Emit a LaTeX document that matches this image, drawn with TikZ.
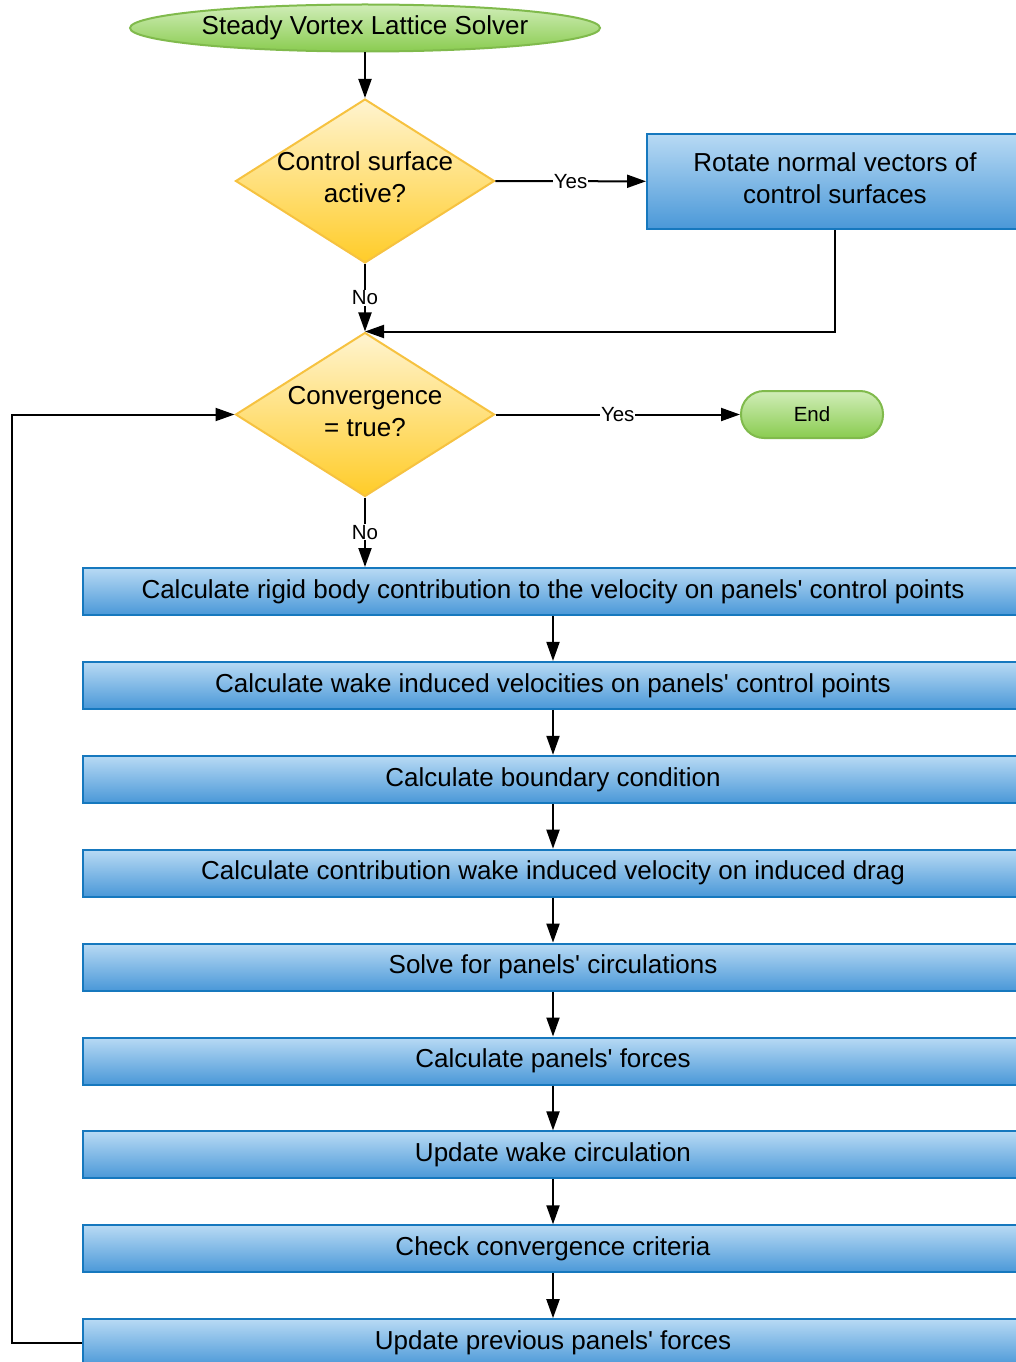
\documentclass[tikz,border=0pt]{standalone}
\usepackage{fontspec}
\setmainfont{Liberation Sans}
\usepackage{tikz}
\usetikzlibrary{positioning,shapes.geometric,arrows.meta}

\definecolor{termtop}{RGB}{208,237,184}
\definecolor{termbot}{RGB}{138,204,80}
\definecolor{termline}{RGB}{128,186,76}
\definecolor{dectop}{RGB}{255,244,208}
\definecolor{decbot}{RGB}{255,204,40}
\definecolor{decline}{RGB}{246,194,64}
\definecolor{proctop}{RGB}{184,218,244}
\definecolor{procbot}{RGB}{74,152,216}
\definecolor{procline}{RGB}{22,120,190}

\begin{document}
\begin{tikzpicture}[
  x=1pt, y=-1pt,
  font=\fontsize{26}{32}\selectfont,
  node distance=44.9pt,
  terminal/.style={draw=termline,line width=2pt,top color=termtop,bottom color=termbot,inner sep=2pt},
  decision/.style={diamond,aspect=1.58,draw=decline,line width=2pt,top color=dectop,bottom color=decbot,
    minimum width=259pt,minimum height=164pt,inner sep=-8pt,align=center,text depth=7pt},
  process/.style={rectangle,draw=procline,line width=2pt,top color=proctop,bottom color=procbot,
    minimum width=940pt,minimum height=47pt,inner sep=0pt},
  flow/.style={line width=2pt,-{Triangle[length=19pt,width=13pt]}},
  answer/.style={fill=white,inner sep=1pt,font=\fontsize{20.5}{24}\selectfont}
]
  \useasboundingbox (0,0) rectangle (1016,1362);
  \clip (0,0) rectangle (1016,1362);

  % start and first test
  \node[terminal,ellipse,minimum width=470pt,minimum height=47pt] (start) at (365,28) {Steady Vortex Lattice Solver};
  \node[decision] (ctrl) at (365,181) {Control surface\\active?};
  \node[process,minimum width=376pt,minimum height=95pt,align=center,text depth=7pt] (rotate) at (835,181.5)
    {Rotate normal vectors of\\control surfaces};

  % convergence test
  \node[decision] (conv) at (365,414.5) {Convergence\\= true?};
  \node[terminal,rectangle,rounded corners=23pt,minimum width=142pt,minimum height=47pt,
    font=\fontsize{20.5}{24}\selectfont] (stop) at (812,414.5) {End};

  % solver steps
  \node[process] (rigid) at (553,591.5) {Calculate rigid body contribution to the velocity on panels\textquotesingle{} control points};
  \node[process,below=of rigid] (wake) {Calculate wake induced velocities on panels\textquotesingle{} control points};
  \node[process,below=of wake] (bc) {Calculate boundary condition};
  \node[process,below=of bc] (drag) {Calculate contribution wake induced velocity on induced drag};
  \node[process,below=of drag] (solve) {Solve for panels\textquotesingle{} circulations};
  \node[process,below=of solve] (forces) {Calculate panels\textquotesingle{} forces};
  \node[process,below=of forces] (wakecirc) {Update wake circulation};
  \node[process,below=of wakecirc] (check) {Check convergence criteria};
  \node[process,below=of check] (prev) {Update previous panels\textquotesingle{} forces};

  \coordinate (loop) at (12,0);

  \draw[flow] (start) -- (ctrl);
  \draw[flow] (ctrl) -- node[answer] {Yes} (rotate);
  \draw[flow] (ctrl) -- node[answer] {No} (conv);
  \draw[flow] (rotate.south) |- (conv.north);
  \draw[flow] (conv) -- node[answer] {Yes} (stop);
  \draw[flow] (conv.south) -- node[answer] {No} (conv.south |- rigid.north);

  \draw[flow] (rigid) -- (wake);
  \draw[flow] (wake) -- (bc);
  \draw[flow] (bc) -- (drag);
  \draw[flow] (drag) -- (solve);
  \draw[flow] (solve) -- (forces);
  \draw[flow] (forces) -- (wakecirc);
  \draw[flow] (wakecirc) -- (check);
  \draw[flow] (check) -- (prev);

  \draw[flow] (prev.west) -- (prev.west -| loop) |- (conv.west);
\end{tikzpicture}
\end{document}
